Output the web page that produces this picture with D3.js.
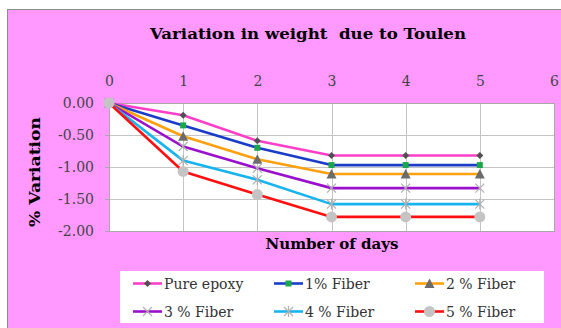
<!DOCTYPE html>
<html>
<head>
<meta charset="utf-8">
<script src="https://cdn.jsdelivr.net/npm/d3@7/dist/d3.min.js"></script>
<style>
  html, body { margin: 0; padding: 0; background: #ffffff; }
  svg { display: block; }
  text { font-family: "DejaVu Serif", "Liberation Serif", serif; white-space: pre; }
</style>
</head>
<body>
<svg id="chart" width="561" height="328"></svg>
<script>
// Weight change (%) of samples immersed in toluene, by fibre content
const days = [0, 1, 2, 3, 4, 5];
const seriesNames = ["Pure epoxy", "1% Fiber", "2 % Fiber", "3 % Fiber", "4 % Fiber", "5 % Fiber"];
const pureEpoxy = [0, -0.19, -0.59, -0.82, -0.82, -0.82];
const fiber1 = [0, -0.35, -0.70, -0.97, -0.97, -0.97];
const fiber2 = [0, -0.52, -0.88, -1.11, -1.11, -1.11];
const fiber3 = [0, -0.68, -1.02, -1.33, -1.33, -1.33];
const fiber4 = [0, -0.90, -1.20, -1.58, -1.58, -1.58];
const fiber5 = [0, -1.07, -1.43, -1.78, -1.78, -1.78];
const xTicks = [0, 1, 2, 3, 4, 5, 6];
const yTicks = [0, -0.5, -1.0, -1.5, -2.0];

const seriesValues = [pureEpoxy, fiber1, fiber2, fiber3, fiber4, fiber5];
const lineColors = ["#ff3fc8", "#1a3cc8", "#ffa010", "#9a10cc", "#18b4f0", "#ff1010"];
const markerTypes = ["diamond", "square", "triangle", "cross", "star", "circle"];

const svg = d3.select("#chart");

// chart background
svg.append("rect").attr("x", 7.5).attr("y", 9.5).attr("width", 560).attr("height", 330)
  .attr("fill", "#ff99ff").attr("stroke", "#8c8c8c").attr("stroke-width", 1);

const x = d3.scaleLinear().domain([0, 6]).range([109, 554]);
const y = d3.scaleLinear().domain([-2, 0]).range([231, 103]);

// plot area
svg.append("rect").attr("x", x(0)).attr("y", y(0))
  .attr("width", x(6) - x(0)).attr("height", y(-2) - y(0))
  .attr("fill", "#ffffff");

// gridlines
const grid = svg.append("g").attr("stroke", "#c4c4c4").attr("stroke-width", 1);
grid.selectAll("line.v").data(xTicks.slice(1)).join("line")
  .attr("x1", d => Math.round(x(d)) + 0.5).attr("x2", d => Math.round(x(d)) + 0.5)
  .attr("y1", y(0)).attr("y2", y(-2));
grid.selectAll("line.h").data(yTicks.slice(1)).join("line")
  .attr("x1", x(0)).attr("x2", x(6))
  .attr("y1", d => Math.round(y(d)) + 0.5).attr("y2", d => Math.round(y(d)) + 0.5);

svg.append("rect").attr("x", x(0) + 0.5).attr("y", y(0) + 0.5)
  .attr("width", x(6) - x(0)).attr("height", y(-2) - y(0))
  .attr("fill", "none").attr("stroke", "#a8a8a8");

// axes
const fmt = d => d3.format(".2f")(d).replace("\u2212", "-");
const xAxis = svg.append("g").attr("transform", `translate(0,${y(0)})`)
  .call(d3.axisTop(x).tickValues(xTicks).tickFormat(d3.format("d")).tickSize(0).tickPadding(17));
const yAxis = svg.append("g").attr("transform", `translate(${x(0)},0)`)
  .call(d3.axisLeft(y).tickValues(yTicks).tickFormat(fmt).tickSize(4).tickPadding(11));
[xAxis, yAxis].forEach(a => {
  a.select(".domain").remove();
  a.selectAll(".tick line").attr("stroke", "#a8a8a8");
  a.selectAll("text").attr("font-family", "DejaVu Serif").attr("font-size", 14)
    .attr("fill", "#444");
});

// titles
svg.append("text").attr("x", 308).attr("y", 39).attr("text-anchor", "middle")
  .attr("font-size", 15.5).attr("font-weight", "bold").attr("fill", "#000")
  .attr("textLength", 316).attr("lengthAdjust", "spacingAndGlyphs")
  .text("Variation in weight  due to Toulen");
svg.append("text").attr("x", 332).attr("y", 249).attr("text-anchor", "middle")
  .attr("font-size", 14).attr("font-weight", "bold").attr("fill", "#000")
  .attr("textLength", 133).attr("lengthAdjust", "spacingAndGlyphs")
  .text("Number of days");
svg.append("text").attr("transform", "translate(40,172) rotate(-90)").attr("text-anchor", "middle")
  .attr("font-size", 14).attr("font-weight", "bold").attr("fill", "#000")
  .attr("textLength", 110).attr("lengthAdjust", "spacingAndGlyphs")
  .text("% Variation");

// marker drawing
function drawMarker(g, type) {
  if (type === "diamond") {
    g.append("path").attr("d", "M0,-3.5L3.5,0L0,3.5L-3.5,0Z").attr("fill", "#505050");
  } else if (type === "square") {
    g.append("rect").attr("x", -3).attr("y", -3).attr("width", 6).attr("height", 6).attr("fill", "#1aa64a");
  } else if (type === "triangle") {
    g.append("path").attr("d", "M0,-5L5,4.5L-5,4.5Z").attr("fill", "#6c6c6c");
  } else if (type === "cross") {
    g.append("path").attr("d", "M-4.5,-4.5L4.5,4.5M-4.5,4.5L4.5,-4.5").attr("stroke", "#b0b0b0").attr("stroke-width", 1.2).attr("fill", "none");
  } else if (type === "star") {
    g.append("path").attr("d", "M-4.5,-4.5L4.5,4.5M-4.5,4.5L4.5,-4.5M0,-5.5L0,5.5").attr("stroke", "#b0b0b0").attr("stroke-width", 1.2).attr("fill", "none");
  } else if (type === "circle") {
    g.append("circle").attr("r", 5.5).attr("fill", "#c4c4c4");
  }
}

const line = d3.line().x((d, i) => x(days[i])).y(d => y(d));
seriesValues.forEach((vals, s) => {
  svg.append("path").datum(vals).attr("d", line)
    .attr("fill", "none").attr("stroke", lineColors[s]).attr("stroke-width", 2.6)
    .attr("stroke-linejoin", "round");
  vals.forEach((v, i) => {
    const g = svg.append("g").attr("transform", `translate(${x(days[i])},${y(v)})`);
    drawMarker(g, markerTypes[s]);
  });
});

// legend
svg.append("rect").attr("x", 120).attr("y", 271).attr("width", 424).attr("height", 52)
  .attr("fill", "#ffffff");
const legCols = [133, 274, 415];
const legRows = [283.5, 311.5];
seriesNames.forEach((name, s) => {
  const lx = legCols[s % 3], ly = legRows[Math.floor(s / 3)];
  const g = svg.append("g");
  g.append("line").attr("x1", lx).attr("x2", lx + 29).attr("y1", ly).attr("y2", ly)
    .attr("stroke", lineColors[s]).attr("stroke-width", 2.6);
  const m = g.append("g").attr("transform", `translate(${lx + 14.5},${ly})`);
  drawMarker(m, markerTypes[s]);
  g.append("text").attr("x", lx + 31).attr("y", ly + 5).attr("font-size", 14)
    .attr("fill", "#333").text(name);
});
</script>
</body>
</html>
